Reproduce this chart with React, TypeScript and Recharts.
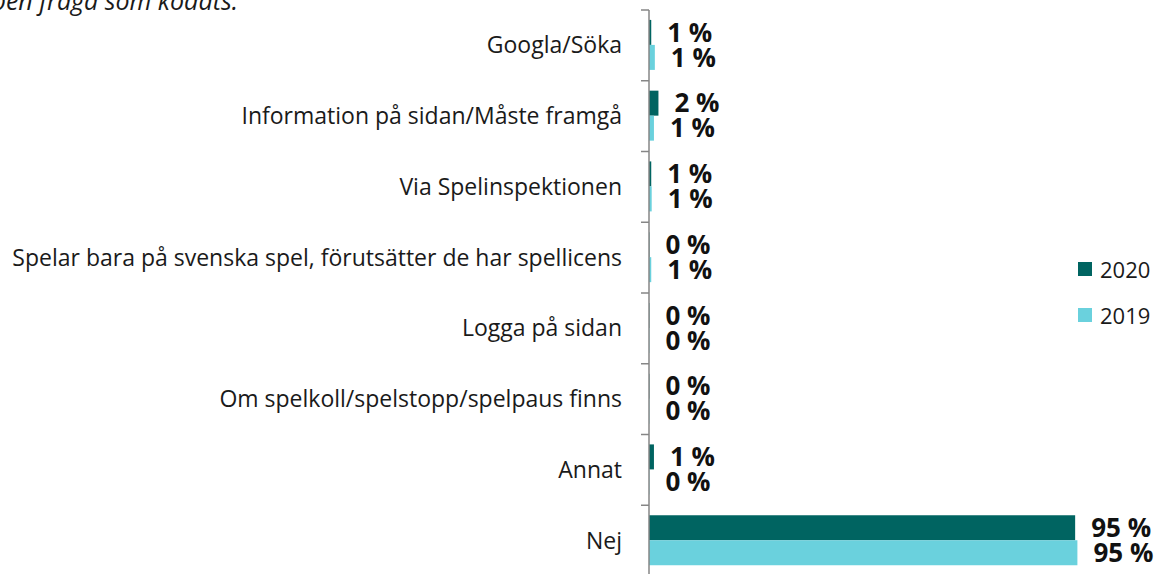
import { BarChart, Bar, XAxis, YAxis, LabelList } from 'recharts';

const categories = [
  'Googla/Söka',
  'Information på sidan/Måste framgå',
  'Via Spelinspektionen',
  'Spelar bara på svenska spel, förutsätter de har spellicens',
  'Logga på sidan',
  'Om spelkoll/spelstopp/spelpaus finns',
  'Annat',
  'Nej',
];
const values2020 = [0.5, 2.1, 0.5, 0.1, 0.1, 0.1, 1.1, 94.7];
const values2019 = [1.3, 1.1, 0.6, 0.5, 0.1, 0.1, 0.1, 95.2];
const seriesNames = ['2020', '2019'];
const colors = ['#006461', '#6AD1DD'];

const data = categories.map((name, i) => ({
  name,
  y2020: values2020[i],
  y2019: values2019[i],
}));

const FONT = '"Open Sans", sans-serif';
const CHART_W = 1159;
const CHART_H = 582;
const AXIS_X = 649;
const MARGIN = { top: 10, right: 60, bottom: 6, left: 0 };
const BAND = (CHART_H - MARGIN.top - MARGIN.bottom) / categories.length;

function CategoryTick(props: any) {
  const { y, payload } = props;
  return (
    <g>
      <line x1={AXIS_X - 8} x2={AXIS_X} y1={y - BAND / 2} y2={y - BAND / 2} stroke="#868686" strokeWidth={1.5} />
      <text x={AXIS_X - 27} y={y} dy={8} textAnchor="end" fontSize={23} fill="#1a1a1a" fontFamily={FONT}>
        {payload.value}
      </text>
    </g>
  );
}

function LegendBox() {
  return (
    <div style={{ position: 'absolute', left: 1078, top: 246, fontFamily: FONT, fontSize: 22, color: '#1a1a1a' }}>
      {seriesNames.map((s, i) => (
        <div key={s} style={{ display: 'flex', alignItems: 'center', height: 46 }}>
          <span style={{ width: 14, height: 14, background: colors[i], marginRight: 8, display: 'inline-block' }} />
          {s}
        </div>
      ))}
    </div>
  );
}

const fmt = (v: any) => `${Math.round(Number(v))} %`;
const labelStyle = { fontFamily: FONT, fontWeight: 700, fontSize: 26, fill: '#111' };

export default function App() {
  return (
    <div style={{ position: 'absolute', left: 0, top: 0, width: 1159, height: 574, overflow: 'hidden', background: '#fff' }}>
      <div style={{ position: 'absolute', left: -41, top: -17, fontFamily: FONT, fontStyle: 'italic', fontSize: 25, whiteSpace: 'nowrap', color: '#1a1a1a' }}>
        Öppen fråga som kodats.
      </div>
      <BarChart
        width={CHART_W}
        height={CHART_H}
        data={data}
        layout="vertical"
        margin={MARGIN}
        barCategoryGap="14%"
        barGap={0}
      >
        <XAxis type="number" domain={[0, 100]} hide />
        <YAxis
          type="category"
          dataKey="name"
          width={AXIS_X}
          tickLine={false}
          axisLine={{ stroke: '#868686', strokeWidth: 1.5 }}
          tick={<CategoryTick />}
          interval={0}
        />
        <Bar dataKey="y2020" name="2020" fill={colors[0]} isAnimationActive={false}>
          <LabelList dataKey="y2020" position="right" offset={16} formatter={fmt} style={labelStyle} />
        </Bar>
        <Bar dataKey="y2019" name="2019" fill={colors[1]} isAnimationActive={false}>
          <LabelList dataKey="y2019" position="right" offset={16} formatter={fmt} style={labelStyle} />
        </Bar>
      </BarChart>
      <LegendBox />
    </div>
  );
}
